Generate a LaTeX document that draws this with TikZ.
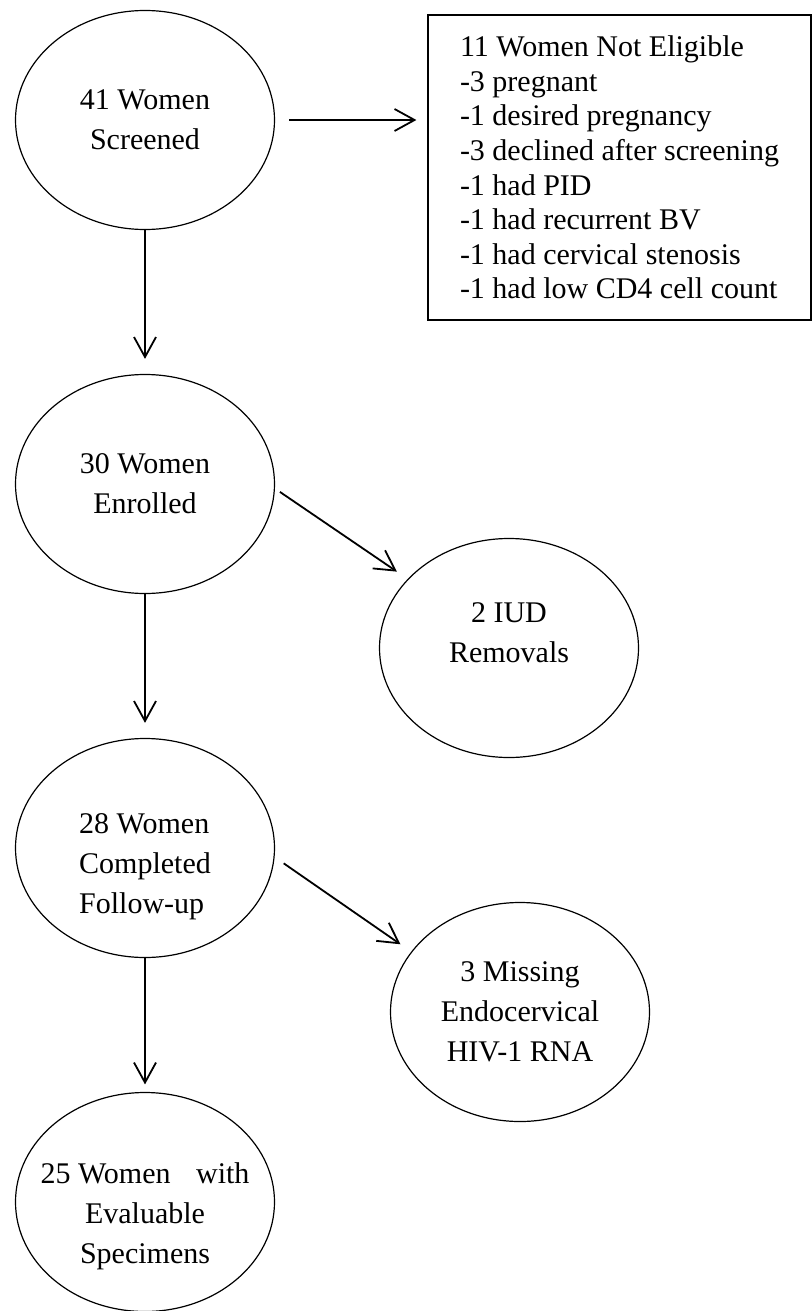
\documentclass[tikz,border=0pt]{standalone}
\usepackage{fontspec}
\setmainfont{Liberation Serif}
\usepackage{tikz}
\usetikzlibrary{
    arrows.meta,
    shapes
}

\begin{document}
\begin{tikzpicture}[node distance=182pt, auto, line width=0.9pt,
        >={Straight Barb[length=10pt,width=11pt]},
        oval/.style={draw, ellipse, line width=0.6pt, minimum width=129.5pt, minimum height=109.5pt, inner sep=0pt, align=center, font=\fontsize{15pt}{20pt}\selectfont},
        listbox/.style={draw, rectangle, line width=0.6pt, minimum width=191.5pt, minimum height=152.5pt, inner xsep=15pt, align=left, font=\fontsize{15pt}{17.3pt}\selectfont}]
            \path[use as bounding box, fill=white] (-72.5pt,60pt) rectangle (333.5pt,-595.5pt);
            \node (A) [oval] {41 Women\\Screened};
            \node (B) [listbox, right of=A, xshift=55.25pt, yshift=-23.75pt] {11 Women Not Eligible\\-3 pregnant\\-1 desired pregnancy\\-3 declined after screening\\-1 had PID\\-1 had recurrent BV\\-1 had cervical stenosis\\-1 had low CD4 cell count};
            \node (C) [oval, below of=A] {30 Women\\Enrolled};
            \node (D) [oval, right of=C, yshift=-82pt, text depth=15pt] {2 IUD\\Removals};
            \node (E) [oval, below of=C, align=left, text height=69pt] {28 Women\\Completed\\Follow-up};
            \node (F) [oval, below of=D, xshift=5.5pt] {3 Missing\\Endocervical\\HIV-1 RNA};
            \node (G) [oval, below of=E, yshift=5pt, inner xsep=-7pt, text height=65pt] {25 Women\hspace{9pt} with\\Evaluable\\Specimens};
            \draw[->, shorten <=7pt, shorten >=5.5pt] (A.east) to (A.east -| B.west);
            \draw[->, shorten >=7.5pt] (A) to (C);
            \draw[->, shorten <=3pt, shorten >=6.5pt] (C.-2) to (D);
            \draw[->, shorten >=7.5pt] (C) to (E);
            \draw[->, shorten <=5.5pt, shorten >=6.5pt] (E.-4) to (F.151);
            \draw[->, shorten >=3.75pt] (E) to (G);
        \end{tikzpicture}
\end{document}
